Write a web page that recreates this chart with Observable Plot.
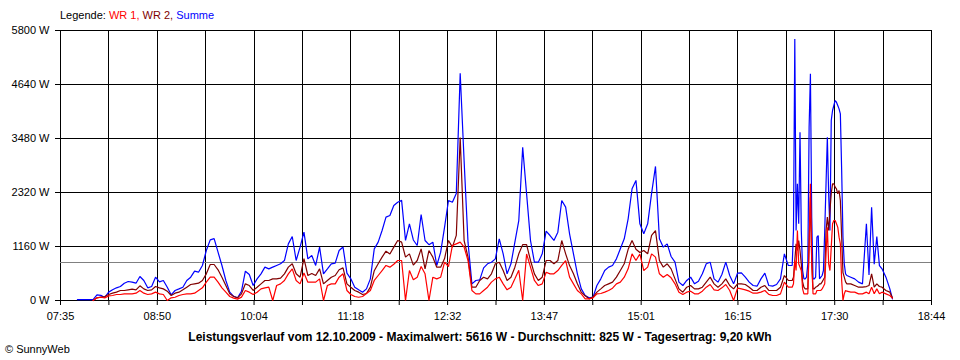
<!DOCTYPE html>
<html><head><meta charset="utf-8">
<script src="https://cdn.jsdelivr.net/npm/d3@7"></script>
<script src="https://cdn.jsdelivr.net/npm/@observablehq/plot@0.6"></script>
<style>
body{margin:0;background:#fff;}
#wrap{position:relative;width:960px;height:360px;font-family:"Liberation Sans",Arial,sans-serif;font-size:11px;color:#000;overflow:hidden;}
#legend{position:absolute;left:60px;top:9px;white-space:nowrap;}
#title{position:absolute;left:0;width:960px;top:330px;text-align:center;font-weight:bold;font-size:12px;white-space:nowrap;}
#copy{position:absolute;left:5px;top:343px;white-space:nowrap;}
#wrap svg{position:absolute;left:0;top:0;}
</style></head><body>
<div id="wrap">
<div id="legend">Legende: <span style="color:#ff0000">WR 1,</span> <span style="color:#800000">WR 2,</span> <span style="color:#0000ff">Summe</span></div>
<div id="title">Leistungsverlauf vom 12.10.2009 - Maximalwert: 5616 W - Durchschnitt: 825 W - Tagesertrag: 9,20 kWh</div>
<div id="copy">© SunnyWeb</div>
</div>
<script>
// axis tick labels
const xTickLabels = ["07:35","08:50","10:04","11:18","12:32","13:47","15:01","16:15","17:30","18:44"];
const yTicks = [0, 1160, 2320, 3480, 4640, 5800];
const average = 825;

// sample times
const times = [
"07:48","07:51","07:54","07:57",
"08:00","08:03","08:06","08:09","08:12","08:15","08:18","08:21","08:24","08:27","08:30","08:33","08:36","08:39","08:42","08:45","08:48","08:51","08:54","08:57",
"09:00","09:03","09:06","09:09","09:12","09:15","09:18","09:21","09:24","09:27","09:30","09:33","09:36","09:39","09:42","09:45","09:48","09:51","09:54","09:57",
"10:00","10:03","10:06","10:09","10:12","10:15","10:18","10:21","10:24","10:27","10:30","10:33","10:36","10:39","10:42","10:45","10:48","10:51","10:54","10:57",
"11:00","11:03","11:06","11:09","11:12","11:15","11:18","11:21","11:24","11:27","11:30","11:33","11:36","11:39","11:42","11:45","11:48","11:51","11:54","11:57",
"12:00","12:03","12:06","12:09","12:12","12:15","12:18","12:21","12:24","12:27","12:30","12:33","12:36","12:39","12:42","12:45","12:48","12:51","12:54","12:57",
"13:00","13:03","13:06","13:09","13:12","13:15","13:18","13:21","13:24","13:27","13:30","13:33","13:36","13:39","13:42","13:45","13:48","13:51","13:54","13:57",
"14:00","14:03","14:06","14:09","14:12","14:15","14:18","14:21","14:24","14:27","14:30","14:33","14:36","14:39","14:42","14:45","14:48","14:51","14:54","14:57",
"15:00","15:03","15:06","15:09","15:12","15:15","15:18","15:21","15:24","15:27","15:30","15:33","15:36","15:39","15:42","15:45","15:48","15:51","15:54","15:57",
"16:00","16:03","16:06","16:09","16:12","16:15","16:18","16:21","16:24","16:27","16:30","16:33","16:36","16:39","16:42","16:45","16:48","16:51","16:54","16:57",
"16:58","16:59","17:00","17:01","17:02","17:03","17:04","17:05","17:06","17:07","17:08","17:09","17:10","17:11","17:12","17:13","17:14","17:15","17:16","17:17","17:18","17:19","17:20","17:21","17:22","17:23","17:24","17:25","17:26","17:27","17:28","17:29","17:30","17:31","17:32","17:33","17:34","17:35","17:36","17:37","17:38","17:39",
"17:42","17:45","17:48","17:51","17:54","17:56","17:58",
"18:00","18:02","18:04","18:06","18:09","18:12","18:14"
];

// Summe (W)
const summe = [
20,20,20,20,
20,120,110,65,180,230,272,300,372,408,394,372,515,430,272,300,500,400,430,286,
122,215,250,286,430,501,630,608,752,1074,1303,1330,1038,752,430,180,90,60,200,630,
558,322,465,573,716,680,716,752,788,859,1217,1375,859,1146,1468,895,967,752,1146,573,
680,788,802,1074,1150,587,465,286,229,179,250,465,1110,1253,1504,1790,1826,2041,2112,2150,
1290,1647,1300,1181,1847,1289,1200,1253,752,1038,1575,2148,2112,2300,4880,3000,1253,358,430,444,
700,788,823,895,1325,1002,573,788,1253,1718,3293,2291,1289,823,823,1002,1490,1396,1289,1468,
2148,2005,1432,1002,573,250,107,57,72,322,465,644,716,752,895,1110,1325,1754,2400,2580,
1647,1432,1647,2300,2880,1325,1146,1217,945,823,394,322,430,501,358,415,573,788,823,465,
394,558,823,537,358,587,594,501,394,322,308,465,587,322,308,344,465,1002,752,752,
1504,5616,1504,2506,1647,3615,1504,644,465,465,501,788,3723,4869,1790,465,465,501,1360,1396,465,501,537,644,1504,2506,3508,2291,1504,3866,4081,4189,4296,4260,4189,4117,4009,2792,1360,788,573,537,
501,465,394,358,1650,550,2000,
780,1375,750,680,501,250,36
];

// WR 1 (W)
const wr1 = [
null,null,null,null,
0,57,70,57,100,107,129,129,143,143,143,157,215,157,129,143,180,143,129,0,
57,70,107,129,143,143,157,215,272,394,501,501,394,272,179,86,50,30,72,215,
179,129,179,250,270,286,0,322,358,430,573,680,430,358,590,394,394,394,465,0,
322,358,358,501,573,215,129,86,70,86,150,215,430,537,644,752,716,780,859,859,
0,644,444,501,730,573,0,501,465,501,823,730,1181,1217,1253,1146,859,215,143,143,
215,286,394,465,501,358,229,286,465,650,0,1000,716,430,322,358,608,573,573,644,
752,859,501,358,215,143,36,36,57,143,150,179,215,265,358,394,501,680,1002,858,
1000,644,716,1002,931,573,501,558,487,358,179,129,179,200,143,143,200,286,344,229,
215,272,344,215,0,265,250,229,200,157,157,179,215,130,107,107,143,394,286,286,
358,859,644,1504,788,716,644,250,143,143,143,143,1146,2506,788,143,143,143,215,215,215,215,250,300,358,1000,1575,788,644,1146,1647,1718,1718,1647,1575,1360,1217,430,0,143,215,200,
179,179,143,143,179,143,286,
143,250,143,179,143,107,50
];

// WR 2 (W)
const wr2 = [
null,null,null,null,
0,57,75,86,129,157,179,215,215,229,243,229,315,250,215,229,300,272,250,200,
107,157,179,229,286,343,358,372,430,573,773,773,659,501,322,143,86,57,143,358,
322,215,286,358,430,430,465,465,480,573,716,788,573,501,900,537,580,537,680,358,
430,500,537,660,700,358,286,215,179,129,150,286,640,788,931,1060,1000,1146,1289,1253,
931,1002,760,859,1110,680,1074,931,716,716,900,1289,1146,1400,3500,1289,931,286,286,430,
501,465,573,788,823,644,430,501,716,1002,1200,1200,859,573,430,501,859,859,788,859,
1289,1002,750,573,358,179,100,36,72,179,250,322,358,394,501,644,788,1100,1289,1100,
1030,1074,1003,1400,1500,859,716,788,680,465,250,179,286,322,250,250,286,394,501,358,
286,358,465,322,250,358,358,344,286,215,215,286,322,215,215,215,286,537,430,430,
501,859,1217,1074,1289,1074,788,400,286,250,250,250,1217,2220,859,251,251,286,300,322,358,358,400,450,501,1500,1790,1504,1933,2300,2506,2506,2434,2400,2291,2363,2148,1360,600,501,400,358,
358,322,286,286,300,322,573,
286,358,300,286,215,179,60
];

if (summe.length !== times.length || wr1.length !== times.length || wr2.length !== times.length) {
  throw new Error(`length mismatch: times ${times.length}, summe ${summe.length}, wr1 ${wr1.length}, wr2 ${wr2.length}`);
}

const toMin = s => { const [h, m] = s.split(":").map(Number); return h * 60 + m; };
const x0 = toMin(xTickLabels[0]);
const x1 = toMin(xTickLabels[xTickLabels.length - 1]);
const nDiv = (xTickLabels.length - 1) * 2;
const xTicks = d3.range(nDiv + 1).map(i => x0 + i * (x1 - x0) / nDiv);
const xLabel = new Map(xTicks.map((t, i) => [t, i % 2 === 0 ? xTickLabels[i / 2] : ""]));

const rows = arr => times.map((t, i) => ({t: toMin(t), v: arr[i] == null ? NaN : arr[i]}));

const lineOpts = color => ({x: "t", y: "v", stroke: color, strokeWidth: 1.2, curve: "linear", strokeLinejoin: "miter"});

const plot = Plot.plot({
  width: 960,
  height: 360,
  marginTop: 30,
  marginBottom: 60,
  marginLeft: 60,
  marginRight: 29,
  style: {fontFamily: "'Liberation Sans', Arial, sans-serif", fontSize: "11px", color: "#000", background: "transparent", overflow: "visible"},
  x: {domain: [x0, x1], label: null},
  y: {domain: [0, yTicks[yTicks.length - 1]], label: null},
  marks: [
    Plot.ruleX(xTicks, {stroke: "#000", strokeOpacity: 1, shapeRendering: "crispEdges"}),
    Plot.ruleY(yTicks, {stroke: "#000", strokeOpacity: 1, shapeRendering: "crispEdges"}),
    Plot.ruleY([average], {stroke: "#808080", shapeRendering: "crispEdges"}),
    Plot.line(rows(summe), lineOpts("#0000ff")),
    Plot.line(rows(wr2), lineOpts("#800000")),
    Plot.line(rows(wr1), lineOpts("#ff0000")),
    Plot.axisY({ticks: yTicks, tickSize: 5, tickPadding: 6, tickFormat: d => `${d} W`, label: null, stroke: "#000", strokeOpacity: 1}),
    Plot.axisX({ticks: xTicks, tickSize: 5, tickPadding: 7, tickFormat: d => xLabel.get(d), label: null, stroke: "#000", strokeOpacity: 1})
  ]
});
document.getElementById("wrap").prepend(plot);
</script>
</body></html>
